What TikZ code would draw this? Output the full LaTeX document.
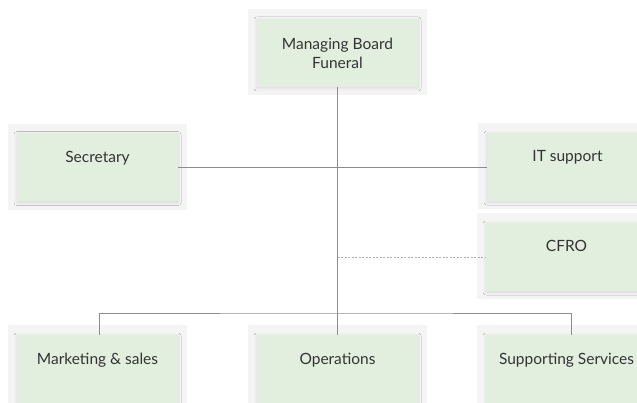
\documentclass[tikz,border=0pt]{standalone}
\usepackage{fontspec}
\setmainfont{Lato}
\usetikzlibrary{shadows.blur,backgrounds}
\definecolor{boxgreen}{HTML}{E2EFDE}
\definecolor{bggray}{HTML}{F4F4F4}
\definecolor{linegray}{HTML}{8C8C8C}
\definecolor{dashgray}{HTML}{B0B0B0}
\definecolor{txt}{HTML}{333333}
\tikzset{
  orgbox/.style={draw=none, fill=boxgreen, minimum width=161pt, inner xsep=0pt, inner ysep=0pt,
    text height=29pt, text depth=39pt, font=\fontsize{15.5}{19}\selectfont, text=txt,
    blur shadow={shadow xshift=0pt, shadow yshift=-1pt, shadow blur radius=3pt, shadow blur steps=8, shadow opacity=12}},
  topbox/.style={orgbox, text height=, text depth=, minimum height=68pt, align=center},
  conn/.style={draw=linegray, line width=0.8pt},
  dashconn/.style={draw=dashgray, line width=0.8pt, dash pattern=on 2pt off 1.5pt}
}
\newcommand{\bgrect}[1]{\fill[bggray] ([shift={(-8.5,-9.5)}]#1.north west) rectangle ([shift={(8.5,8)}]#1.south east);}
\begin{document}
\begin{tikzpicture}[x=1pt,y=-1pt]
\useasboundingbox (0,0) rectangle (637,403);
\node[topbox] (board) at (337.5,53) {Managing Board\\Funeral};
\node[orgbox] (sec) at (97.5,167.5) {Secretary};
\node[orgbox] (it) at (567.5,167) {IT support};
\node[orgbox] (cfro) at (566.5,257) {CFRO};
\node[orgbox] (mkt) at (97.5,369) {Marketing \& sales};
\node[orgbox] (ops) at (337.5,369) {Operations};
\node[orgbox] (sup) at (566.5,369) {Supporting Services};
\begin{scope}[on background layer]
\fill[white] (0,0) rectangle (637,403);
\bgrect{board}\bgrect{sec}\bgrect{it}\bgrect{cfro}\bgrect{mkt}\bgrect{ops}\bgrect{sup}
\end{scope}
% connectors
\coordinate (bus) at (337.5,313);
\draw[conn] (board.south) -- (ops.north);
\draw[conn] (sec.east) -- (sec.east -| it.west);
\draw[dashconn] (board.south |- cfro.west) -- (cfro.west);
\draw[conn] ([xshift=1.5pt]mkt.north) |- (bus) -| ([xshift=4.5pt]sup.north);
\end{tikzpicture}
\end{document}
